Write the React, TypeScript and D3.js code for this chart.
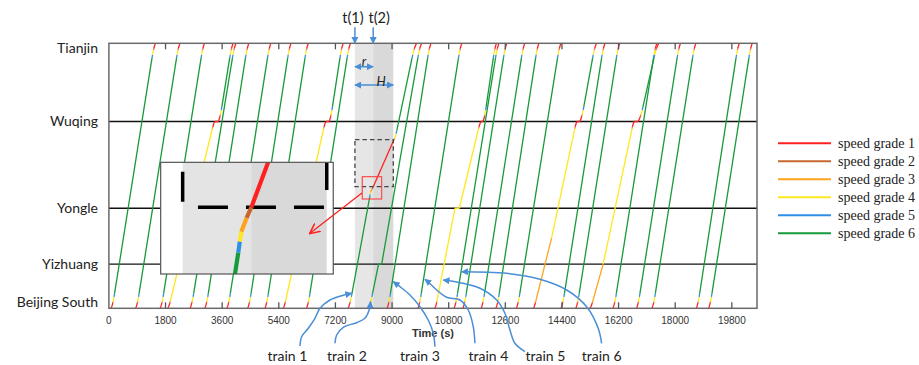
import React from "react";
import * as d3 from "d3";

const WIDTH = 919;
const HEIGHT = 365;

const stationNames = ["Beijing South", "Yizhuang", "Yongle", "Wuqing", "Tianjin"];
const stationKm = [0, 20, 45.3, 84.6, 120];
const timeTicks = [0, 1800, 3600, 5400, 7200, 9000, 10800, 12600, 14400, 16200, 18000, 19800];

const gradeLabels = ["speed grade 1", "speed grade 2", "speed grade 3", "speed grade 4", "speed grade 5", "speed grade 6"];
const gradeColors = ["#ff2020", "#c8672e", "#ffa31a", "#ffe81f", "#2f8fe6", "#179a3a"];

// km covered in grades 1..5 while a train speeds up to (or brakes from) its running grade
const bandKm = [2.4, 0.4, 0.5, 1.9, 1.4];

// Non-stop services: departure from Beijing South, arrival at Tianjin (s)
const nonstopRuns: [number, number][] = [
  [70, 1480], [850, 2260], [1630, 3040], [2580, 4040], [3050, 4450], [3750, 5150],
  [4410, 5790], [4960, 6340], [6280, 7680], [8840, 10240], [9820, 11220], [10970, 12400],
  [11250, 12650], [11830, 13220], [12300, 13670], [12950, 14370], [14370, 15770],
  [14840, 16240], [16020, 17420], [16770, 18170], [17260, 18660], [18670, 20040], [19060, 20450],
];

// Other services. Knots: [time s, km, grade running at the knot (0 = standing)];
// grades: grade held on each leg between knots
type Knot = [number, number, number];
const trainD = { knots: [[1870, 0, 0], [3370, 84.6, 0], [3480, 84.6, 0], [3950, 120, 0]] as Knot[], grades: [4, 1, 6] };
const trainE = { knots: [[5540, 0, 0], [6900, 84.6, 0], [7000, 84.6, 0], [7450, 120, 0]] as Knot[], grades: [4, 1, 6] };
const trainF = { knots: [[13490, 0, 0], [14070, 31.8, 3], [14880, 84.6, 0], [14970, 84.6, 0], [15500, 120, 0]] as Knot[], grades: [3, 4, 1, 6] };
const trainG = { knots: [[15290, 0, 0], [15710, 20, 3], [16700, 84.6, 0], [16820, 84.6, 0], [17480, 120, 0]] as Knot[], grades: [3, 4, 1, 6] };
const trainOne = {
  knots: [[7600, 0, 0], [8291, 50.45, 6], [8304, 51.58, 5], [8317, 52.57, 4], [8361, 53.98, 3], [8402, 55.07, 2], [9060, 76.35, 1], [9780, 120, 0]] as Knot[],
  grades: [6, 5, 4, 3, 2, 1, 6],
};
const trainTwo = { knots: [[8240, 0, 0], [8570, 20, 6], [8670, 20, 6], [9940, 120, 0]] as Knot[], grades: [6, 6, 6] };
const trainFive = {
  knots: [[10360, 0, 0], [11000, 45.3, 4], [11140, 45.3, 4], [11830, 84.6, 0], [11890, 84.6, 0], [12320, 120, 0]] as Knot[],
  grades: [4, 4, 4, 1, 6],
};

// Disturbance window and speed restriction
const windowStart = 7820;
const windowSplit = 8400;
const windowEnd = 9040;
const restrictKm = [55.07, 76.35];
const zoomSquareT = [8053, 8670];
const zoomSquareKm = [49.5, 59.6];
const insetT = [7634, 9095];
const insetKm = [48.27, 59.64];
const insetPlaceT = [1646, 7131];
const insetPlaceKm = [15.53, 66.1];
const pointerFrom: [number, number] = [8043, 52.2];
const pointerTo: [number, number] = [6391, 33.96];

// Call-outs naming the six trains
const calloutLabels = ["train 1", "train 2", "train 3", "train 4", "train 5", "train 6"];
const calloutLabelT = [5676, 7567, 9887, 12064, 13875, 15661];
const calloutLabelKm = -23.9;
const calloutPaths: [number, number][][] = [
  [[6073, -17.1], [6127, -12.9], [6337, -9.06], [6550, -4.53], [6709, 0], [7026, 3.76], [7398, 5.7], [7716, 6.79]],
  [[7185, -15.85], [7239, -12.1], [7449, -8.6], [7872, -6.52], [8136, -4.53], [8273, -0.77], [8317, 3.0]],
  [[10364, -17.4], [10309, -11.3], [10150, -5.3], [9887, 0.72], [9569, 6.0], [9251, 9.8], [9038, 12.05]],
  [[11635, -15.85], [11581, -8.3], [11422, -0.77], [11158, 3.76], [10735, 4.98], [10418, 8.29], [10150, 11.9], [10045, 13.13]],
  [[13224, -19.65], [12906, -15.85], [12747, -9.83], [12588, -2.26], [12324, 3.76], [11794, 9.06], [11158, 11.6], [10627, 12.8]],
  [[15661, -15.85], [15553, -9.06], [15185, 0.72], [14549, 8.29], [13700, 13.13], [12642, 15.85], [11212, 16.57]],
];

type Pt = [number, number];
type Piece = { g: number; pts: Pt[] };

const R0 = 0.35; // speed at the start of a speed-up, as a share of running speed

function runLeg(out: Piece[], t0: number, k0: number, t1: number, k1: number, g: number, from: number, to: number) {
  const up = bandKm.slice(from, Math.max(from, g - 1)).map((len, i) => ({ g: from + 1 + i, len }));
  const down = bandKm.slice(to, Math.max(to, g - 1)).map((len, i) => ({ g: to + 1 + i, len })).reverse();
  const a = d3.sum(up, (d) => d.len);
  const b = d3.sum(down, (d) => d.len);
  const f = 2 / (1 + R0);
  const v = (k1 - k0 - a - b + (a + b) * f) / (t1 - t0);
  const ta = (a * f) / v;
  const tb = (b * f) / v;
  const tau = (d: number, tt: number) => {
    const A = ((1 - R0) * v) / (2 * tt);
    const B = R0 * v;
    return (-B + Math.sqrt(B * B + 4 * A * d)) / (2 * A);
  };
  let d0 = 0;
  for (const band of up) {
    const pts = d3.range(5).map((j) => {
      const d = d0 + (band.len * j) / 4;
      return [t0 + tau(d, ta), k0 + d] as Pt;
    });
    out.push({ g: band.g, pts });
    d0 += band.len;
  }
  out.push({ g, pts: [[t0 + ta, k0 + a], [t1 - tb, k1 - b]] });
  let e0 = b;
  for (const band of down) {
    const pts = d3.range(5).map((j) => {
      const e = e0 - (band.len * j) / 4;
      return [t1 - tau(e, tb), k1 - e] as Pt;
    });
    out.push({ g: band.g, pts });
    e0 -= band.len;
  }
}

function buildPieces(knots: Knot[], grades: number[]): Piece[] {
  const out: Piece[] = [];
  for (let i = 0; i < knots.length - 1; i++) {
    const [t0, k0, s0] = knots[i];
    const [t1, k1, s1] = knots[i + 1];
    const g = grades[i];
    if (k0 === k1) {
      out.push({ g, pts: [[t0, k0], [t1, k1]] });
    } else {
      runLeg(out, t0, k0, t1, k1, g, s0, s1);
    }
  }
  return out;
}

const FONT_SANS = "Lato, 'Open Sans', sans-serif";
const BLUE = "#4a8fd6";

export default function App() {
  const x = d3.scaleLinear().domain([0, 20600]).range([108.9, 757]);
  const y = d3.scaleLinear().domain([0, 120]).range([308.3, 43.3]);
  const line = d3.line<Pt>().x((d) => x(d[0])).y((d) => y(d[1]));
  const curve = d3.line<Pt>().x((d) => x(d[0])).y((d) => y(d[1])).curve(d3.curveCatmullRom.alpha(0.5));

  const trains = [
    ...nonstopRuns.map(([dep, arr]) => buildPieces([[dep, 0, 0], [arr, 120, 0]], [6])),
    buildPieces(trainD.knots, trainD.grades),
    buildPieces(trainE.knots, trainE.grades),
    buildPieces(trainF.knots, trainF.grades),
    buildPieces(trainG.knots, trainG.grades),
    buildPieces(trainTwo.knots, trainTwo.grades),
    buildPieces(trainFive.knots, trainFive.grades),
    buildPieces(trainOne.knots, trainOne.grades),
  ];
  const oneForInset = buildPieces(trainOne.knots, trainOne.grades);

  const x0 = x(0);
  const x1 = x(20600);
  const yTop = y(120);
  const yBot = y(0);

  // inset: magnified view round the restriction entry
  const ix = d3.scaleLinear().domain(insetT).range([x(insetPlaceT[0]), x(insetPlaceT[1])]);
  const iy = d3.scaleLinear().domain(insetKm).range([y(insetPlaceKm[0]), y(insetPlaceKm[1])]);
  const iLine = d3.line<Pt>().x((d) => ix(d[0])).y((d) => iy(d[1]));
  const inL = x(insetPlaceT[0]);
  const inR = x(insetPlaceT[1]);
  const inT = y(insetPlaceKm[1]);
  const inB = y(insetPlaceKm[0]);

  const legendX = 778;
  const legendY = 143.3;

  return (
    <svg width={WIDTH} height={HEIGHT} style={{ position: "absolute", left: 0, top: 0 }} xmlns="http://www.w3.org/2000/svg">
      <defs>
        <marker id="blueHead" viewBox="0 0 10 10" refX="9" refY="5" markerWidth="7" markerHeight="7" markerUnits="userSpaceOnUse" orient="auto-start-reverse">
          <path d="M0,0 L10,5 L0,10 z" fill={BLUE} />
        </marker>
        <marker id="redHead" viewBox="0 0 10 10" refX="9" refY="5" markerWidth="11" markerHeight="11" markerUnits="userSpaceOnUse" orient="auto">
          <path d="M0,0.5 L9.5,5 L0,9.5" fill="none" stroke="#ff2020" strokeWidth="1.4" />
        </marker>
        <clipPath id="plotClip">
          <rect x={x0} y={yTop} width={x1 - x0} height={yBot - yTop} />
        </clipPath>
        <clipPath id="insetClip">
          <rect x={inL} y={inT} width={inR - inL} height={inB - inT} />
        </clipPath>
      </defs>
      <rect width={WIDTH} height={HEIGHT} fill="#fff" />

      {/* disturbance window */}
      <rect x={x(windowStart)} y={yTop} width={x(windowSplit) - x(windowStart)} height={yBot - yTop} fill="#e6e6e6" />
      <rect x={x(windowSplit)} y={yTop} width={x(windowEnd) - x(windowSplit)} height={yBot - yTop} fill="#d9d9d9" />

      {/* station lines */}
      {stationKm.slice(1, 4).map((k) => (
        <line key={k} x1={x0} x2={x1} y1={y(k)} y2={y(k)} stroke="#111" strokeWidth={1.3} />
      ))}

      {/* train paths */}
      <g clipPath="url(#plotClip)" fill="none" strokeWidth={1.3}>
        {trains.map((pieces, i) => (
          <g key={i}>
            {pieces.map((p, j) => (
              <path key={j} d={line(p.pts) || ""} stroke={gradeColors[p.g - 1]} />
            ))}
          </g>
        ))}
      </g>

      {/* frame and ticks */}
      <rect x={x0} y={yTop} width={x1 - x0} height={yBot - yTop} fill="none" stroke="#6a6a6a" strokeWidth={1.5} />
      {timeTicks.slice(1).map((t) => (
        <g key={t} stroke="#555" strokeWidth={1.3}>
          <line x1={x(t)} x2={x(t)} y1={yTop} y2={yTop + 6} />
          <line x1={x(t)} x2={x(t)} y1={yBot} y2={yBot - 6} />
        </g>
      ))}
      {timeTicks.map((t) => (
        <text key={t} x={x(t)} y={yBot + 15.2} textAnchor="middle" fontFamily="'Liberation Sans', Arial, sans-serif" fontSize={10} fill="#333">
          {t}
        </text>
      ))}
      <text x={(x0 + x1) / 2} y={yBot + 28.7} textAnchor="middle" fontFamily="'Liberation Sans', Arial, sans-serif" fontSize={11} fontWeight="bold" fill="#333">
        Time (s)
      </text>

      {/* station names */}
      {stationNames.map((s, i) => (
        <text key={s} x={98} y={Math.min(Math.max(y(stationKm[i]) + 5, yTop + 10), yBot - 1.6)} textAnchor="end" fontFamily={FONT_SANS} fontSize={14} fill="#222">
          {s}
        </text>
      ))}

      {/* restriction box and zoom marker */}
      <rect x={x(windowStart)} y={y(restrictKm[1])} width={x(windowEnd) - x(windowStart)} height={y(restrictKm[0]) - y(restrictKm[1])} fill="none" stroke="#444" strokeWidth={1.3} strokeDasharray="4.5 3" />
      <rect x={x(zoomSquareT[0])} y={y(zoomSquareKm[1])} width={x(zoomSquareT[1]) - x(zoomSquareT[0])} height={y(zoomSquareKm[0]) - y(zoomSquareKm[1])} fill="none" stroke="#ff4040" strokeWidth={1.1} />

      {/* inset */}
      <g>
        <rect x={inL} y={inT} width={inR - inL} height={inB - inT} fill="#fff" />
        <g clipPath="url(#insetClip)">
          <rect x={ix(windowStart)} y={inT} width={ix(windowSplit) - ix(windowStart)} height={inB - inT} fill="#e4e4e4" />
          <rect x={ix(windowSplit)} y={inT} width={ix(windowEnd) - ix(windowSplit)} height={inB - inT} fill="#d9d9d9" />
          <g stroke="#000" strokeWidth={3.5}>
            <line x1={ix(windowStart)} x2={ix(windowEnd)} y1={iy(restrictKm[0])} y2={iy(restrictKm[0])} strokeDasharray="30 18" strokeDashoffset={32.7} />
            <line x1={ix(windowStart)} x2={ix(windowStart)} y1={iy(restrictKm[0])} y2={inT} strokeDasharray="30 18" strokeDashoffset={42.5} />
            <line x1={ix(windowEnd)} x2={ix(windowEnd)} y1={iy(restrictKm[0])} y2={inT} strokeDasharray="30 18" strokeDashoffset={30.8} />
          </g>
          <g fill="none" strokeWidth={4.2}>
            {oneForInset.map((p, j) => (
              <path key={j} d={iLine(p.pts) || ""} stroke={gradeColors[p.g - 1]} />
            ))}
          </g>
        </g>
        <rect x={inL} y={inT} width={inR - inL} height={inB - inT} fill="none" stroke="#555" strokeWidth={1.2} />
      </g>

      {/* pointer from the zoom marker into the inset */}
      <line x1={x(pointerFrom[0])} y1={y(pointerFrom[1])} x2={x(pointerTo[0])} y2={y(pointerTo[1])} stroke="#ff2020" strokeWidth={1.3} markerEnd="url(#redHead)" />

      {/* window annotations */}
      <g stroke={BLUE} strokeWidth={1.5} fill="none">
        <line x1={x(windowStart)} x2={x(windowStart)} y1={yTop - 16} y2={yTop} markerEnd="url(#blueHead)" />
        <line x1={x(windowSplit)} x2={x(windowSplit)} y1={yTop - 16} y2={yTop} markerEnd="url(#blueHead)" />
        <line x1={x(windowStart)} x2={x(windowSplit)} y1={y(109.4)} y2={y(109.4)} markerStart="url(#blueHead)" markerEnd="url(#blueHead)" />
        <line x1={x(windowStart)} x2={x(windowEnd)} y1={y(101.1)} y2={y(101.1)} markerStart="url(#blueHead)" markerEnd="url(#blueHead)" />
      </g>
      <text x={x(windowStart) - 2} y={yTop - 20} textAnchor="middle" fontFamily={FONT_SANS} fontSize={14.5} fill="#222">t(1)</text>
      <text x={x(windowSplit) + 6} y={yTop - 20} textAnchor="middle" fontFamily={FONT_SANS} fontSize={14.5} fill="#222">t(2)</text>
      <text x={(x(windowStart) + x(windowSplit)) / 2} y={y(109.4) - 0.5} textAnchor="middle" fontFamily={FONT_SANS} fontStyle="italic" fontSize={13} fill="#222">r</text>
      <text x={(x(windowStart) + x(windowEnd)) / 2 + 7} y={y(101.1) + 1} textAnchor="middle" fontFamily={FONT_SANS} fontStyle="italic" fontSize={13} fill="#222">H</text>

      {/* train call-outs */}
      <g stroke={BLUE} strokeWidth={1.5} fill="none">
        {calloutPaths.map((p, i) => (
          <path key={i} d={curve(p) || ""} markerEnd="url(#blueHead)" />
        ))}
      </g>
      {calloutLabels.map((s, i) => (
        <text key={s} x={x(calloutLabelT[i])} y={y(calloutLabelKm)} textAnchor="middle" fontFamily={FONT_SANS} fontSize={14} fill="#222">
          {s}
        </text>
      ))}

      {/* legend */}
      {gradeLabels.map((s, i) => (
        <g key={s}>
          <line x1={legendX} x2={legendX + 53} y1={legendY + i * 18} y2={legendY + i * 18} stroke={gradeColors[i]} strokeWidth={2} />
          <text x={legendX + 60} y={legendY + i * 18 + 4.5} fontFamily="'Liberation Serif', 'DejaVu Serif', serif" fontSize={14} fill="#222">
            {s}
          </text>
        </g>
      ))}
    </svg>
  );
}
